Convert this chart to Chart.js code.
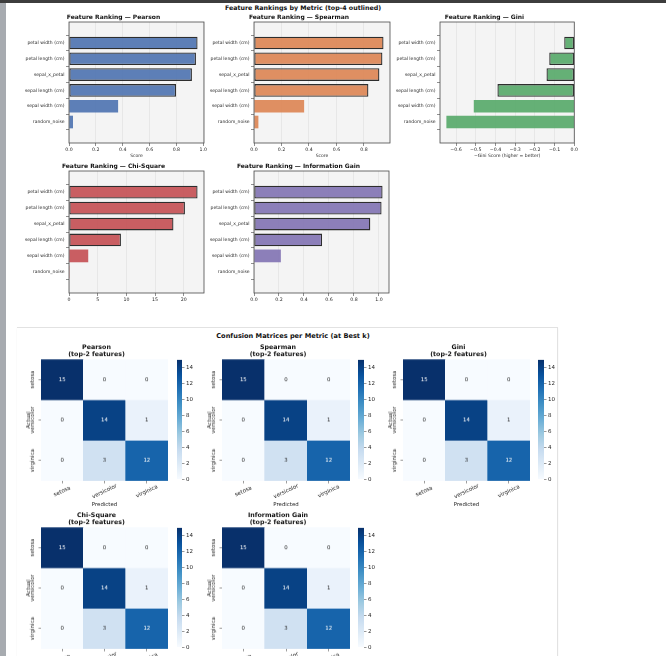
<!DOCTYPE html>
<html><head><meta charset="utf-8">
<script src="https://cdn.jsdelivr.net/npm/chart.js@4.4.0/dist/chart.umd.min.js"></script>
<style>
html,body{margin:0;padding:0;background:#fff;width:666px;height:656px;overflow:hidden;position:relative;font-family:"DejaVu Sans",sans-serif;}
.box{position:absolute;}
.box canvas{display:block;}
.sup{position:absolute;font-weight:bold;color:#111;white-space:nowrap;transform:translate(-50%,-50%);}
</style></head><body>
<div style="position:absolute;left:0;top:0;width:666px;height:3px;background:#3d3d3d"></div>
<div style="position:absolute;left:0;top:3px;width:6px;height:653px;background:#a7abb0"></div>
<div style="position:absolute;left:17px;top:327px;width:540px;height:340px;border-top:1px solid #e2e2e2;border-right:1px solid #e2e2e2;box-shadow:0 1px 2px rgba(0,0,0,0.05)"></div>
<div class="sup" style="left:303px;top:6.5px;font-size:6.3px">Feature Rankings by Metric (top-4 outlined)</div>
<div class="sup" style="left:293px;top:336px;font-size:6.6px">Confusion Matrices per Metric (at Best k)</div>
<script>
// ---------------- data ----------------
const features = ['petal width (cm)','petal length (cm)','sepal_x_petal','sepal length (cm)','sepal width (cm)','random_noise'];
const pearsonScores   = [0.958, 0.946, 0.916, 0.798, 0.366, 0.030];
const spearmanScores  = [0.943, 0.935, 0.913, 0.833, 0.365, 0.032];
const giniScores      = [-0.051, -0.127, -0.141, -0.390, -0.510, -0.649];
const chiSquareScores = [22.4, 20.2, 18.2, 9.05, 3.35, 0.10];
const infoGainScores  = [1.029, 1.021, 0.931, 0.545, 0.215, 0.0];
const topOutlined = [true, true, true, true, false, false];

const pearsonTicks  = [0, 0.2, 0.4, 0.6, 0.8, 1.0];
const spearmanTicks = [0, 0.2, 0.4, 0.6, 0.8];
const giniTicks     = [-0.6, -0.5, -0.4, -0.3, -0.2, -0.1, 0.0];
const chiTicks      = [0, 5, 10, 15, 20];
const infoGainTicks = [0, 0.2, 0.4, 0.6, 0.8, 1.0];

const classes = ['setosa', 'versicolor', 'virginica'];
const cmPearson   = [[15, 0, 0], [0, 14, 1], [0, 3, 12]];
const cmSpearman  = [[15, 0, 0], [0, 14, 1], [0, 3, 12]];
const cmGini      = [[15, 0, 0], [0, 14, 1], [0, 3, 12]];
const cmChiSquare = [[15, 0, 0], [0, 14, 1], [0, 3, 12]];
const cmInfoGain  = [[15, 0, 0], [0, 14, 1], [0, 3, 12]];
const colorbarTicks = [0, 2, 4, 6, 8, 10, 12, 14];
const colorMax = 15;

// ---------------- style helpers ----------------
const F = '"DejaVu Sans", sans-serif';
const blueStops = [[247,251,255],[222,235,247],[198,219,239],[158,202,225],[107,174,214],[66,146,198],[33,113,181],[8,81,156],[8,48,107]];
function blues(t){
  t = Math.max(0, Math.min(1, t));
  const p = t * (blueStops.length - 1), i = Math.min(Math.floor(p), blueStops.length - 2), f = p - i;
  const a = blueStops[i], b = blueStops[i+1];
  return [0,1,2].map(k => Math.round(a[k] + (b[k]-a[k]) * f));
}
function rgb(c){ return 'rgb(' + c.join(',') + ')'; }
function lum(c){
  const l = c.map(v => { v /= 255; return v <= 0.03928 ? v/12.92 : Math.pow((v+0.055)/1.055, 2.4); });
  return 0.2126*l[0] + 0.7152*l[1] + 0.0722*l[2];
}
function mk(l, t, w, h){
  const d = document.createElement('div');
  d.className = 'box';
  d.style.left = l + 'px'; d.style.top = t + 'px'; d.style.width = w + 'px'; d.style.height = h + 'px';
  const c = document.createElement('canvas');
  d.appendChild(c);
  document.body.appendChild(d);
  return c;
}
function fmtNum(v, dec){
  const s = Math.abs(v).toFixed(dec);
  return (v < -1e-9 ? '\u2212' : '') + s;
}

const framePlugin = {
  id: 'frame',
  beforeDraw(chart){
    const {ctx, chartArea: a} = chart;
    ctx.save(); ctx.fillStyle = '#f4f4f4'; ctx.fillRect(a.left, a.top, a.right - a.left, a.bottom - a.top); ctx.restore();
  },
  afterDatasetsDraw(chart){
    const {ctx, chartArea: a} = chart;
    ctx.save(); ctx.strokeStyle = '#4a4a4a'; ctx.lineWidth = 0.8;
    ctx.strokeRect(a.left, a.top, a.right - a.left, a.bottom - a.top); ctx.restore();
  }
};

function barPanel(rect, scores, color, title, ticks, dec, xTitle){
  const ML = 46, MR = 4, MT = 12, MB = xTitle ? 15.2 : 9;
  const cv = mk(rect.l - ML, rect.t - MT, rect.r - rect.l + ML + MR, rect.b - rect.t + MT + MB);
  const mn = Math.min(0, Math.min(...scores) * 1.05), mx = Math.max(0, Math.max(...scores) * 1.05);
  new Chart(cv, {
    type: 'bar',
    data: { datasets: [{
      data: scores.map((v, i) => ({x: v, y: i})),
      backgroundColor: color,
      borderColor: '#2e2e2e',
      borderWidth: topOutlined.map(t => t ? 1.3 : 0),
      borderSkipped: false,
      barPercentage: 0.8, categoryPercentage: 1
    }]},
    options: {
      indexAxis: 'y', responsive: true, maintainAspectRatio: false, animation: false,
      layout: { autoPadding: false, padding: {left: 0, right: MR, top: 0, bottom: 0} },
      plugins: {
        legend: {display: false}, tooltip: {enabled: false},
        title: { display: true, text: title, color: '#111', font: {family: F, size: 6, weight: 'bold', lineHeight: 1.2}, padding: {top: 3.4, bottom: 1.4} }
      },
      scales: {
        x: {
          type: 'linear', min: mn, max: mx,
          afterBuildTicks: s => { s.ticks = ticks.map(v => ({value: v})); },
          afterFit: s => { s.height = MB; },
          ticks: { font: {family: F, size: 4.7}, color: '#2a2a2a', padding: 1, maxRotation: 0, autoSkip: false, callback: v => fmtNum(v, dec) },
          grid: { color: 'rgba(0,0,0,0.09)', lineWidth: 0.6, tickColor: '#444', tickLength: 3, tickWidth: 0.6 },
          border: { display: false },
          title: { display: !!xTitle, text: xTitle || '', color: '#2a2a2a', font: {family: F, size: 4.5, lineHeight: 1.2}, padding: 0 }
        },
        y: {
          type: 'linear', reverse: true, min: -0.69, max: features.length - 1 + 0.69,
          afterBuildTicks: s => { s.ticks = features.map((f, i) => ({value: i})); },
          afterFit: s => { s.width = ML; },
          ticks: { font: {family: F, size: 4.5}, color: '#2a2a2a', padding: 1.5, autoSkip: false, callback: v => features[v] },
          grid: { drawOnChartArea: false, tickColor: '#444', tickLength: 3, tickWidth: 0.6 },
          border: { display: false }
        }
      }
    },
    plugins: [framePlugin]
  });
}

const heatLabels = {
  id: 'heatLabels',
  afterDatasetsDraw(chart){
    const {ctx} = chart;
    ctx.save();
    ctx.textAlign = 'center'; ctx.textBaseline = 'middle';
    ctx.font = '5.4px ' + F;
    chart.data.datasets.forEach((ds, di) => {
      chart.getDatasetMeta(di).data.forEach((el, j) => {
        const v = ds.values[j];
        const c = blues(v / colorMax);
        ctx.fillStyle = lum(c) > 0.408 ? '#262626' : '#ffffff';
        ctx.fillText(String(v), el.x, (el.y + el.base) / 2);
      });
    });
    ctx.restore();
  },
  afterDraw(chart){
    const {ctx, chartArea: a} = chart;
    const xs = chart.scales.x, ys = chart.scales.y;
    ctx.save();
    ctx.fillStyle = '#262626'; ctx.font = '5.5px ' + F;
    ctx.textAlign = 'center'; ctx.textBaseline = 'middle';
    classes.forEach((c, j) => {
      ctx.save(); ctx.translate(xs.getPixelForValue(j), a.bottom + 10.5); ctx.rotate(-25 * Math.PI / 180);
      ctx.fillText(c, 0, 0); ctx.restore();
    });
    classes.forEach((c, i) => {
      ctx.save(); ctx.translate(a.left - 8, ys.getPixelForValue(i + 0.5)); ctx.rotate(-Math.PI / 2);
      ctx.fillText(c, 0, 0); ctx.restore();
    });
    ctx.restore();
  }
};

function heatmap(rect, cm, titleLines){
  const ML = 16, MR = 2, MT = 19, MB = 26.6;
  const cv = mk(rect.l - ML, rect.t - MT, rect.r - rect.l + ML + MR, rect.b - rect.t + MT + MB);
  new Chart(cv, {
    type: 'bar',
    data: {
      labels: classes,
      datasets: cm.map((row, i) => ({
        data: row.map(() => [i, i + 1]),
        values: row,
        backgroundColor: row.map(v => rgb(blues(v / colorMax))),
        borderWidth: 0, grouped: false,
        barPercentage: 1, categoryPercentage: 1
      }))
    },
    options: {
      responsive: true, maintainAspectRatio: false, animation: false,
      layout: { autoPadding: false, padding: {left: 0, right: MR, top: 0, bottom: 0} },
      plugins: {
        legend: {display: false}, tooltip: {enabled: false},
        title: { display: true, text: titleLines, color: '#111', font: {family: F, size: 6.3, weight: 'bold', lineHeight: 1.14}, padding: {top: 3.4, bottom: 1.4} }
      },
      scales: {
        x: {
          type: 'category',
          afterFit: s => { s.height = MB; },
          ticks: { display: false },
          grid: { offset: false, drawOnChartArea: false, tickColor: '#555', tickLength: 2.5, tickWidth: 0.6 },
          border: { display: false },
          title: { display: true, text: 'Predicted', color: '#262626', font: {family: F, size: 5.4, lineHeight: 1.2}, padding: 0 }
        },
        y: {
          type: 'linear', reverse: true, min: 0, max: classes.length,
          afterBuildTicks: s => { s.ticks = classes.map((c, i) => ({value: i + 0.5})); },
          afterFit: s => { s.width = ML; },
          ticks: { display: false },
          grid: { drawOnChartArea: false, tickColor: '#555', tickLength: 2.5, tickWidth: 0.6 },
          border: { display: false },
          title: { display: true, text: 'Actual', color: '#262626', font: {family: F, size: 5.4, lineHeight: 1.2}, padding: {top: 0.6, bottom: 0} }
        }
      }
    },
    plugins: [heatLabels]
  });
}

function colorbar(rect){
  const PAD = 4, MR = 16;
  const cv = mk(rect.l, rect.t - PAD, rect.r - rect.l + MR, rect.b - rect.t + 2 * PAD);
  new Chart(cv, {
    type: 'bar',
    data: { labels: [''], datasets: [{
      data: [[0, colorMax]],
      backgroundColor: (c) => {
        const {ctx, chartArea} = c.chart;
        if (!chartArea) return 'rgb(107,174,214)';
        const g = ctx.createLinearGradient(0, chartArea.bottom, 0, chartArea.top);
        blueStops.forEach((s, k) => g.addColorStop(k / (blueStops.length - 1), rgb(s)));
        return g;
      },
      borderWidth: 0, barPercentage: 1, categoryPercentage: 1
    }]},
    options: {
      responsive: true, maintainAspectRatio: false, animation: false,
      layout: { autoPadding: false, padding: {left: 0, right: 0, top: PAD, bottom: PAD} },
      plugins: { legend: {display: false}, tooltip: {enabled: false} },
      scales: {
        x: { display: false },
        y: {
          position: 'right', min: 0, max: colorMax,
          afterBuildTicks: s => { s.ticks = colorbarTicks.map(v => ({value: v})); },
          afterFit: s => { s.width = MR; },
          ticks: { font: {family: F, size: 5.5}, color: '#262626', padding: 1.5, autoSkip: false },
          grid: { drawOnChartArea: false, tickColor: '#555', tickLength: 2.5, tickWidth: 0.6 },
          border: { display: false }
        }
      }
    }
  });
}

// ---------------- figure 1 ----------------
barPanel({l: 69,  r: 204, t: 22, b: 143}, pearsonScores,   'rgba(76,114,176,0.9)', 'Feature Ranking \u2014 Pearson',  pearsonTicks, 1, 'Score');
barPanel({l: 254, r: 390, t: 22, b: 143}, spearmanScores,  'rgba(221,132,82,0.9)', 'Feature Ranking \u2014 Spearman', spearmanTicks, 1, 'Score');
barPanel({l: 440, r: 575, t: 22, b: 143}, giniScores,      'rgba(85,168,104,0.9)', 'Feature Ranking \u2014 Gini',     giniTicks, 1, '\u2212Gini Score (higher = better)');
barPanel({l: 69,  r: 204, t: 171, b: 293}, chiSquareScores, 'rgba(196,78,82,0.9)', 'Feature Ranking \u2014 Chi-Square', chiTicks, 0, null);
barPanel({l: 254, r: 389, t: 171, b: 293}, infoGainScores,  'rgba(129,114,179,0.9)', 'Feature Ranking \u2014 Information Gain', infoGainTicks, 1, null);

// ---------------- figure 2 ----------------
heatmap({l: 41,  r: 168, t: 359, b: 480}, cmPearson,   ['Pearson', '(top-2 features)']);
heatmap({l: 222, r: 350, t: 359, b: 480}, cmSpearman,  ['Spearman', '(top-2 features)']);
heatmap({l: 403, r: 530, t: 359, b: 480}, cmGini,      ['Gini', '(top-2 features)']);
heatmap({l: 41,  r: 168, t: 527, b: 648}, cmChiSquare, ['Chi-Square', '(top-2 features)']);
heatmap({l: 222, r: 350, t: 527, b: 648}, cmInfoGain,  ['Information Gain', '(top-2 features)']);
colorbar({l: 177, r: 182, t: 359, b: 480});
colorbar({l: 358, r: 364, t: 359, b: 480});
colorbar({l: 538, r: 544, t: 359, b: 480});
colorbar({l: 177, r: 182, t: 527, b: 648});
colorbar({l: 358, r: 364, t: 527, b: 648});
</script>
</body></html>
